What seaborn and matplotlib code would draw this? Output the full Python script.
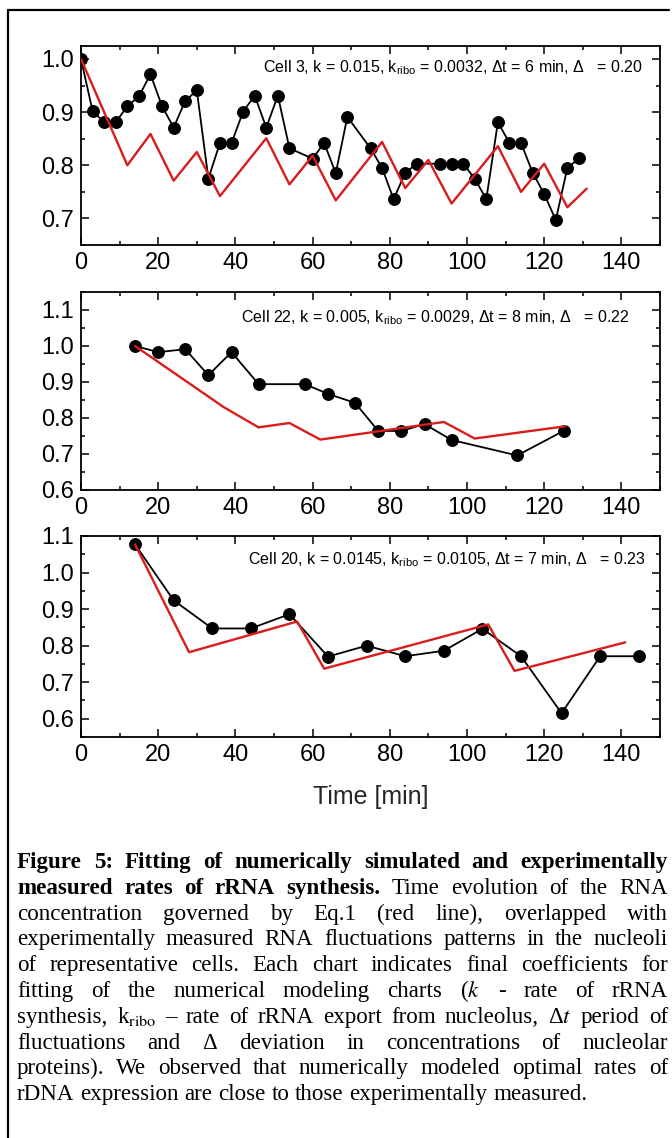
import matplotlib
matplotlib.use('Agg')
import matplotlib.pyplot as plt
from matplotlib.lines import Line2D
from matplotlib.ticker import MultipleLocator, FormatStrFormatter
import seaborn as sns
import pandas as pd

# measured RNA (black dots) and model (red line) for three cells
cell3_t = [0, 3, 6, 9, 12, 15, 18, 21, 24, 27, 30, 33, 36, 39, 42, 45, 48, 51, 54,
           60, 63, 66, 69, 75, 78, 81, 84, 87, 93, 96, 99, 102, 105, 108, 111, 114,
           117, 120, 123, 126, 129]
cell3_y = [1.0, 0.902, 0.881, 0.881, 0.911, 0.930, 0.971, 0.911, 0.871, 0.921, 0.941,
           0.775, 0.842, 0.842, 0.901, 0.931, 0.871, 0.931, 0.832, 0.8125, 0.842, 0.785,
           0.891, 0.832, 0.795, 0.736, 0.786, 0.803, 0.803, 0.803, 0.803, 0.775, 0.736,
           0.881, 0.842, 0.842, 0.786, 0.746, 0.697, 0.795, 0.813]
cell3_model_t = [0, 12, 18, 24, 30, 36, 48, 54, 60, 66, 78, 84, 90, 96, 108, 114, 120, 126, 131]
cell3_model_y = [1.0, 0.80, 0.859, 0.771, 0.825, 0.742, 0.851, 0.764, 0.818, 0.734, 0.844,
                 0.757, 0.810, 0.728, 0.836, 0.750, 0.803, 0.721, 0.756]

cell22_t = [14, 20, 27, 33, 39, 46, 58, 64, 71, 77, 83, 89, 96, 113, 125]
cell22_y = [1.0, 0.983, 0.991, 0.919, 0.983, 0.894, 0.894, 0.867, 0.842, 0.764, 0.764,
            0.783, 0.739, 0.696, 0.764]
cell22_model_t = [14, 37, 46, 54, 62, 94, 102, 125.5]
cell22_model_y = [1.0, 0.830, 0.774, 0.786, 0.740, 0.789, 0.743, 0.777]

cell20_t = [14, 24, 34, 44, 54, 64, 74, 84, 94, 104, 114, 124.5, 134.5, 144.5]
cell20_y = [1.077, 0.924, 0.847, 0.847, 0.886, 0.770, 0.800, 0.771, 0.786, 0.846, 0.771,
            0.615, 0.771, 0.771]
cell20_model_t = [14, 28, 56, 63, 105.5, 112.3, 141]
cell20_model_y = [1.077, 0.782, 0.866, 0.737, 0.858, 0.731, 0.809]

labels = [
    r'Cell 3, k = 0.015, k$_\mathrm{ribo}$ = 0.0032, Δt = 6 min, Δ   = 0.20',
    r'Cell 22, k = 0.005, k$_\mathrm{ribo}$ = 0.0029, Δt = 8 min, Δ   = 0.22',
    r'Cell 20, k = 0.0145, k$_\mathrm{ribo}$ = 0.0105, Δt = 7 min, Δ   = 0.23',
]
y_limits = [(0.65, 1.025), (0.6, 1.15), (0.55, 1.1)]
y_ticks = [[0.7, 0.8, 0.9, 1.0], [0.6, 0.7, 0.8, 0.9, 1.0, 1.1], [0.6, 0.7, 0.8, 0.9, 1.0, 1.1]]
x_ticks = [0, 20, 40, 60, 80, 100, 120, 140]

caption = [
    [('Figure 5: Fitting of numerically simulated and experimentally', 'bold')],
    [('measured rates of rRNA synthesis.', 'bold'), ('Time evolution of the RNA', 'normal')],
    [('concentration governed by Eq.1 (red line), overlapped with', 'normal')],
    [('experimentally measured RNA fluctuations patterns in the nucleoli', 'normal')],
    [('of representative cells. Each chart indicates final coefficients for', 'normal')],
    [('fitting of the numerical modeling charts ($k$ - rate of rRNA', 'normal')],
    [(r'synthesis, k$_\mathrm{ribo}$ – rate of rRNA export from nucleolus, Δ$t$ period of', 'normal')],
    [('fluctuations and Δ deviation in concentrations of nucleolar', 'normal')],
    [('proteins). We observed that numerically modeled optimal rates of', 'normal')],
    [('rDNA expression are close to those experimentally measured.', 'normal')],
]

sns.set_theme(style='ticks')
plt.rcParams['font.family'] = ['Liberation Sans', 'DejaVu Sans']
plt.rcParams['mathtext.fontset'] = 'custom'
plt.rcParams['mathtext.rm'] = 'Liberation Sans'
plt.rcParams['mathtext.it'] = 'Liberation Sans:italic'

W, H = 672, 1138
fig = plt.figure(figsize=(W / 100, H / 100), dpi=100)
fig.patch.set_facecolor('white')

boxes = [(45.7, 245), (292, 490), (536, 737)]
ax_left, ax_right = 81, 660
text_pos = [(0.971, 0.888), (0.948, 0.869), (0.976, 0.881)]
series = [(cell3_t, cell3_y, cell3_model_t, cell3_model_y),
          (cell22_t, cell22_y, cell22_model_t, cell22_model_y),
          (cell20_t, cell20_y, cell20_model_t, cell20_model_y)]

for i, (top, bottom) in enumerate(boxes):
    ax = fig.add_axes([ax_left / W, 1 - bottom / H, (ax_right - ax_left) / W, (bottom - top) / H])
    t, y, mt, my = series[i]
    meas = pd.DataFrame({'t': t, 'y': y})
    model = pd.DataFrame({'t': mt, 'y': my})
    sns.lineplot(data=meas, x='t', y='y', ax=ax, color='black', linewidth=1.3,
                 marker='o', markersize=8.5, markeredgecolor='black', sort=False,
                 estimator=None, zorder=2)
    sns.lineplot(data=model, x='t', y='y', ax=ax, color='#d91c1c', linewidth=1.7,
                 sort=False, estimator=None, zorder=3)
    ax.set_xlim(0, 150)
    ax.set_ylim(*y_limits[i])
    ax.set_xticks(x_ticks)
    ax.set_yticks(y_ticks[i])
    ax.xaxis.set_minor_locator(MultipleLocator(10))
    ax.yaxis.set_minor_locator(MultipleLocator(0.05))
    ax.yaxis.set_major_formatter(FormatStrFormatter('%.1f'))
    ax.tick_params(which='both', direction='in', top=True, right=True, colors='black',
                   width=1.1, labelsize=17)
    ax.tick_params(which='major', length=6)
    ax.tick_params(which='minor', length=3)
    ax.tick_params(axis='x', pad=5)
    ax.tick_params(axis='y', pad=5)
    for s in ax.spines.values():
        s.set_linewidth(1.3)
        s.set_color('black')
    ax.set_xlabel('')
    ax.set_ylabel('')
    ax.text(text_pos[i][0], text_pos[i][1], labels[i], transform=ax.transAxes,
            ha='right', va='center', fontsize=11.5, color='black')

fig.text(370.5 / W, 1 - 797 / H, 'Time [min]', ha='center', va='center', fontsize=18)

# frame around the figure
fig.add_artist(Line2D([8 / W, 8 / W], [1 - 10 / H, 0], transform=fig.transFigure,
                      color='black', linewidth=1.6))
fig.add_artist(Line2D([8 / W, 669 / W], [1 - 10 / H, 1 - 10 / H], transform=fig.transFigure,
                      color='black', linewidth=1.6))

# justified caption
renderer = fig.canvas.get_renderer()
serif = ['Liberation Serif', 'DejaVu Serif']


def measure(s, weight, fs):
    t = fig.text(0, 0, s, fontsize=fs, family=serif, weight=weight, math_fontfamily='stix')
    w = t.get_window_extent(renderer).width
    t.remove()
    return w


cap_left, cap_right = 17, 668
probe = caption[-1][0][0]
fs = 10 * (585 - cap_left) / measure(probe, 'normal', 10)

for li, line in enumerate(caption):
    words = []
    for seg, weight in line:
        words += [(w, weight) for w in seg.split(' ')]
    widths = [measure(w, wt, fs) for w, wt in words]
    if li < len(caption) - 1:
        gap = (cap_right - cap_left - sum(widths)) / (len(words) - 1)
    else:
        gap = measure('a a', 'normal', fs) - measure('aa', 'normal', fs)
    x = cap_left
    yb = 1 - (868 + 25.8 * li) / H
    for (w, wt), wd in zip(words, widths):
        fig.text(x / W, yb, w, fontsize=fs, family=serif, weight=wt,
                 math_fontfamily='stix', va='baseline', ha='left', color='black')
        x += wd + gap

fig.savefig('out.png', dpi=100, facecolor='white')
